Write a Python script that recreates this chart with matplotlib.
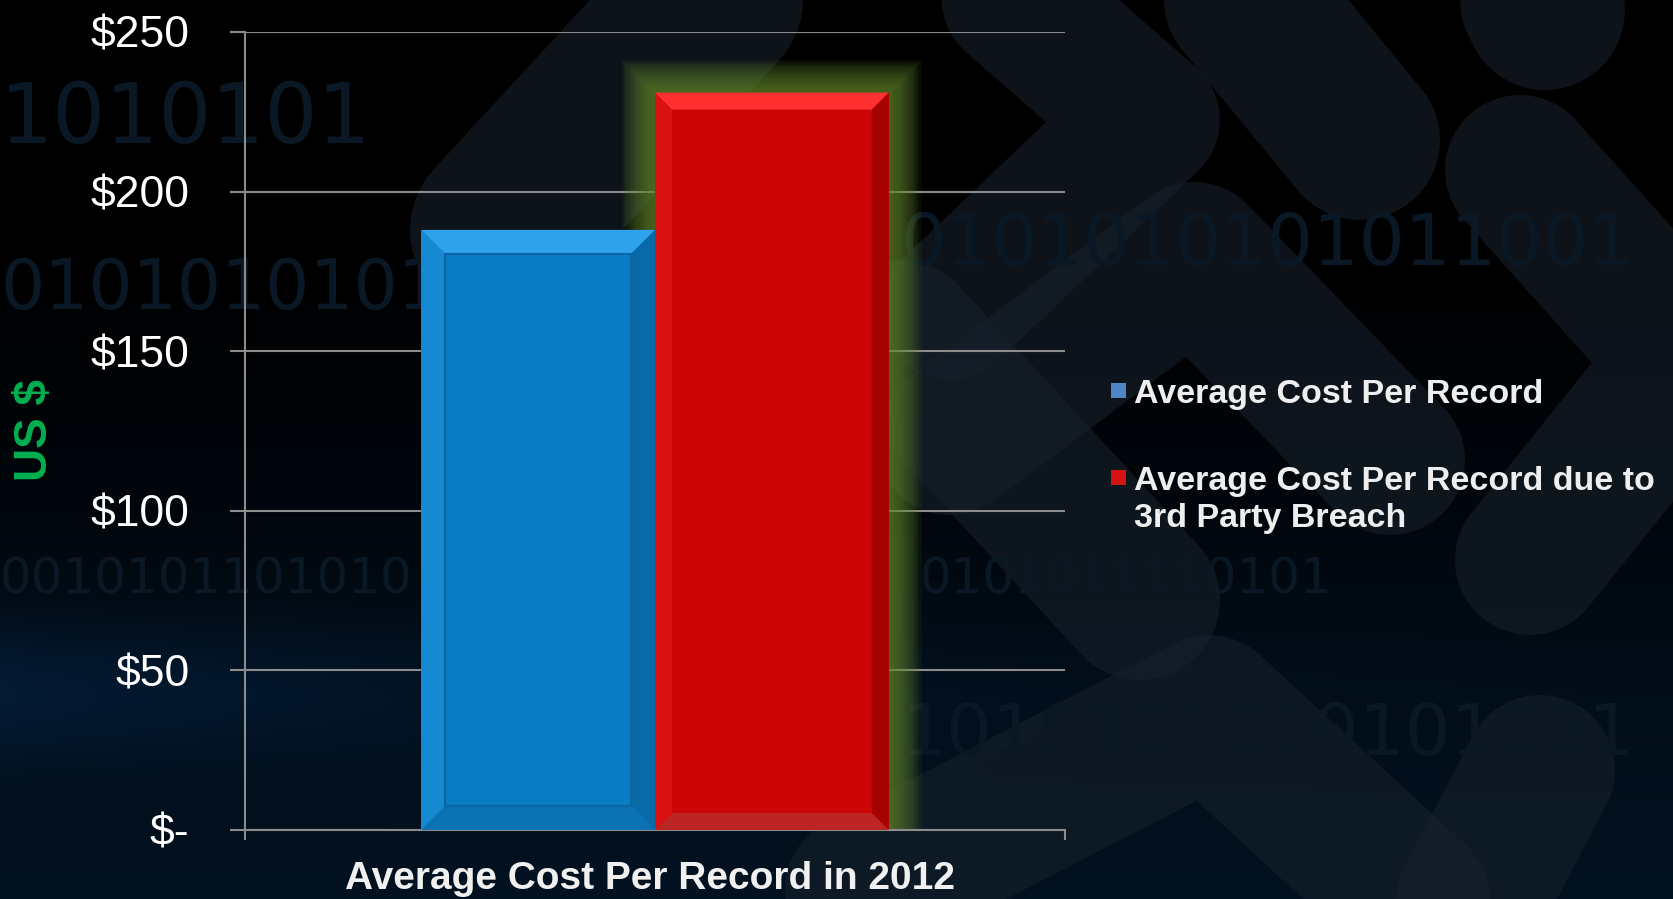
import numpy as np
import matplotlib.pyplot as plt
from matplotlib.patches import Rectangle, Polygon

plt.rcParams['font.family'] = ['Liberation Sans', 'DejaVu Sans']

# data
category = 'Average Cost Per Record in 2012'
series = ['Average Cost Per Record',
          'Average Cost Per Record due to\n3rd Party Breach']
values = [188, 231]
bar_colors = ['#0a7cc4', '#cc0606']
legend_colors = ['#4f86c6', '#d41414']
yticks = [0, 50, 100, 150, 200, 250]
ytick_labels = ['$-', '$50', '$100', '$150', '$200', '$250']

W, H = 1674, 899
fig = plt.figure(figsize=(W / 100, H / 100), dpi=100)
fig.patch.set_facecolor('black')

# ---- background: dark gradient, faint chevron bands and binary digits
bg = fig.add_axes([0, 0, 1, 1], zorder=-10)
bg.set_xlim(0, W)
bg.set_ylim(H, 0)
bg.axis('off')
yy, xx = np.mgrid[0:H, 0:W]
t = np.clip((yy / H - 0.3) / 0.7, 0, 1)
glow = np.exp(-((yy - 690) / 70.0) ** 2) * np.exp(-xx / 600.0)
img = np.zeros((H, W, 3))
img[..., 0] = 0.01 * t + 0.01 * glow
img[..., 1] = 0.07 * t + 0.06 * glow
img[..., 2] = 0.13 * t + 0.12 * glow
bg.imshow(img, extent=[0, W, H, 0], aspect='auto', interpolation='bilinear')

bands = [([(500, 230), (740, -30)], 180),
         ([(990, -20), (1150, 120), (950, 310)], 140),
         ([(1220, -30), (1360, 140)], 160),
         ([(1540, 0), (1545, 10)], 160),
         ([(1520, 170), (1690, 360), (1530, 560)], 150),
         ([(950, 440), (1194, 257), (1390, 460)], 150),
         ([(900, 340), (1140, 600)], 160),
         ([(860, 890), (1209, 710), (1480, 960)], 150),
         ([(1440, 960), (1540, 770)], 150)]
for pts, lw in bands:
    bx, by = zip(*pts)
    bg.plot(bx, by, color='#16202a', lw=lw * 0.72, solid_capstyle='round',
            solid_joinstyle='round', alpha=0.6)

binary_rows = [('1010101', 0, 120, 60), ('0101010101', 0, 290, 50),
               ('0101010101011001', 900, 245, 52), ('0010101101010', 0, 580, 36),
               ('1010101010101001', 900, 735, 52), ('0101011110101', 920, 580, 36)]
for txt, x, y, fs in binary_rows:
    bg.text(x, y, txt, color='#0a1825', fontsize=fs, va='center',
            ha='left', family='DejaVu Sans')

# ---- main axes
ax = fig.add_axes([245 / W, 69 / H, 820 / W, 798 / H])
ax.set_facecolor('none')
ax.set_xlim(-0.5, 0.5)
ax.set_ylim(0, 250)

px = 1.0 / 820
py = 250.0 / 798

width = 0.285
pos = [-width / 2, width / 2]

# green glow behind the red bar
gx0 = pos[1] - width / 2
for i in range(1, 16):
    p = i * 2.2
    ax.add_patch(Rectangle((gx0 - p * px, 0), width + 2 * p * px,
                           values[1] + p * py, facecolor='#64882c',
                           edgecolor='none', alpha=0.085, zorder=1))

bars = ax.bar(pos, values, width=width, color=bar_colors, zorder=2)

bevel_cols = [('#2ea3ec', '#1589d2', '#0a6aa8', '#0b72b4', 24),
              ('#ff3030', '#d91111', '#a80303', '#bd2424', 17)]
for rect, (ctop, cleft, cright, cbot, b) in zip(bars, bevel_cols):
    x0, w, h = rect.get_x(), rect.get_width(), rect.get_height()
    bx, by = b * px, b * py
    ax.add_patch(Polygon([(x0, h), (x0 + w, h), (x0 + w - bx, h - by),
                          (x0 + bx, h - by)], color=ctop, zorder=3, lw=0))
    ax.add_patch(Polygon([(x0, h), (x0 + bx, h - by), (x0 + bx, by),
                          (x0, 0)], color=cleft, zorder=3, lw=0))
    ax.add_patch(Polygon([(x0 + w, h), (x0 + w - bx, h - by),
                          (x0 + w - bx, by), (x0 + w, 0)], color=cright,
                         zorder=3, lw=0))
    ax.add_patch(Polygon([(x0, 0), (x0 + bx, by), (x0 + w - bx, by),
                          (x0 + w, 0)], color=cbot, zorder=3, lw=0))

# inner frame on the blue bar
r = bars[0]
ax.add_patch(Rectangle((r.get_x() + 24 * px, 24 * py),
                       r.get_width() - 48 * px, r.get_height() - 48 * py,
                       facecolor='none', edgecolor='#0966a3', lw=1.5, zorder=4))

# axes styling
ax.set_yticks(yticks)
ax.set_yticklabels(ytick_labels)
ax.yaxis.grid(True, color='#8c8c8c', lw=1.5, zorder=0)
ax.set_axisbelow(True)
ax.tick_params(axis='y', length=11, width=1.5, color='#8c8c8c', pad=29,
               labelsize=32, labelcolor='white')
ax.set_xticks([-0.5, 0.5])
ax.set_xticklabels(['', ''])
ax.tick_params(axis='x', length=7, width=1.5, color='#8c8c8c')
for s in ['top', 'right']:
    ax.spines[s].set_visible(False)
for s in ['left', 'bottom']:
    ax.spines[s].set_color('#8c8c8c')
    ax.spines[s].set_linewidth(1.5)

fig.text(650 / W, 1 - 889 / H, category, ha='center', va='baseline',
         color='#f0f0f0', fontsize=28, fontweight='bold')
fig.text(35 / W, 1 - 430 / H, 'US $', rotation=90, ha='center', va='center',
         color='#00b050', fontsize=33, fontweight='bold')

# legend
legend_y = [403, 490]
for label, c, yb in zip(series, legend_colors, legend_y):
    fig.patches.append(Rectangle((1111 / W, 1 - (yb - 5) / H), 15 / W, 15 / H,
                                 transform=fig.transFigure, facecolor=c,
                                 edgecolor='none'))
    lines = label.split('\n')
    for k, line in enumerate(lines):
        fig.text(1134 / W, 1 - (yb + 37 * k) / H, line, ha='left',
                 va='baseline', color='#eeeeee', fontsize=24.5,
                 fontweight='bold')

fig.savefig('out.png', dpi=100, facecolor=fig.get_facecolor())
